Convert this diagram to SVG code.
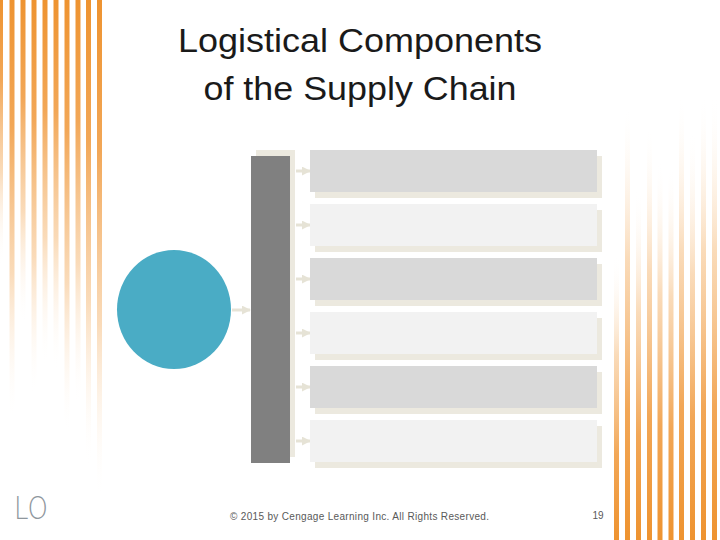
<svg xmlns="http://www.w3.org/2000/svg" width="720" height="540" viewBox="0 0 720 540">
<defs>
<linearGradient id="gl" x1="0" y1="0" x2="0" y2="1">
<stop offset="0" stop-color="#ee9330"/>
<stop offset="0.3" stop-color="#f2a757"/>
<stop offset="0.65" stop-color="#f8cfa2" stop-opacity="0.75"/>
<stop offset="1" stop-color="#ffffff" stop-opacity="0"/>
</linearGradient>
<linearGradient id="gr" x1="0" y1="1" x2="0" y2="0">
<stop offset="0" stop-color="#ee9330"/>
<stop offset="0.3" stop-color="#f2a757"/>
<stop offset="0.65" stop-color="#f8cfa2" stop-opacity="0.75"/>
<stop offset="1" stop-color="#ffffff" stop-opacity="0"/>
</linearGradient>
<marker id="ah" viewBox="0 0 10 10" refX="9" refY="5" markerWidth="3" markerHeight="3" orient="auto">
<path d="M0,0 L10,5 L0,10 z" fill="#e6e3d6"/>
</marker>
<style>
.sl{fill:url(#gl)}
.sr{fill:url(#gr)}
.box-d{fill:#d9d9d9}
.box-l{fill:#f2f2f2}
.shadow{fill:#ece9df}
.conn{stroke:#e6e3d6;stroke-width:3;fill:none;marker-end:url(#ah)}
.title{font-family:"Liberation Sans",Arial,sans-serif;font-size:34px;fill:#1a1a1a;text-anchor:middle}
</style>
</defs>
<rect width="720" height="540" fill="#ffffff"/>
<g id="stripes-left">
<rect class="sl" x="-2" y="0" width="5" height="265"/>
<rect class="sl" x="9.5" y="0" width="5" height="420"/>
<rect class="sl" x="20.5" y="0" width="5" height="325"/>
<rect class="sl" x="31.5" y="0" width="5" height="395"/>
<rect class="sl" x="42.5" y="0" width="5" height="365"/>
<rect class="sl" x="53.5" y="0" width="5" height="370"/>
<rect class="sl" x="64.5" y="0" width="5" height="435"/>
<rect class="sl" x="75.5" y="0" width="5" height="405"/>
<rect class="sl" x="86" y="0" width="5" height="465"/>
<rect class="sl" x="97" y="0" width="5" height="500"/>
</g>
<g id="stripes-right">
<rect class="sr" x="614" y="255" width="5" height="285"/>
<rect class="sr" x="625" y="105" width="5" height="435"/>
<rect class="sr" x="636" y="190" width="5" height="350"/>
<rect class="sr" x="647" y="125" width="5" height="415"/>
<rect class="sr" x="657.5" y="160" width="5" height="380"/>
<rect class="sr" x="668.5" y="165" width="5" height="375"/>
<rect class="sr" x="679" y="95" width="5" height="445"/>
<rect class="sr" x="690" y="130" width="5" height="410"/>
<rect class="sr" x="701" y="95" width="5" height="445"/>
<rect class="sr" x="712" y="95" width="5" height="445"/>
</g>
<g id="title">
<text class="title" x="360" y="52" textLength="364" lengthAdjust="spacingAndGlyphs">Logistical Components</text>
<text class="title" x="360" y="100" textLength="313" lengthAdjust="spacingAndGlyphs">of the Supply Chain</text>
</g>
<g id="connectors">
<line class="conn" x1="232" y1="310" x2="250" y2="310"/>
<line class="conn" x1="296" y1="171" x2="310" y2="171"/>
<line class="conn" x1="296" y1="225" x2="310" y2="225"/>
<line class="conn" x1="296" y1="279" x2="310" y2="279"/>
<line class="conn" x1="296" y1="333" x2="310" y2="333"/>
<line class="conn" x1="296" y1="387" x2="310" y2="387"/>
<line class="conn" x1="296" y1="441" x2="310" y2="441"/>
</g>
<g id="circle">
<ellipse cx="174" cy="309.5" rx="57" ry="59.5" fill="#4aacc5"/>
</g>
<g id="bar">
<rect class="shadow" x="256" y="150" width="39" height="307"/>
<rect x="251" y="156" width="39" height="307" fill="#808080"/>
</g>
<g id="box1"><rect class="shadow" x="315" y="156" width="287" height="42"/><rect class="box-d" x="310" y="150" width="287" height="42"/></g>
<g id="box2"><rect class="shadow" x="315" y="210" width="287" height="42"/><rect class="box-l" x="310" y="204" width="287" height="42"/></g>
<g id="box3"><rect class="shadow" x="315" y="264" width="287" height="42"/><rect class="box-d" x="310" y="258" width="287" height="42"/></g>
<g id="box4"><rect class="shadow" x="315" y="318" width="287" height="42"/><rect class="box-l" x="310" y="312" width="287" height="42"/></g>
<g id="box5"><rect class="shadow" x="315" y="372" width="287" height="42"/><rect class="box-d" x="310" y="366" width="287" height="42"/></g>
<g id="box6"><rect class="shadow" x="315" y="426" width="287" height="42"/><rect class="box-l" x="310" y="420" width="287" height="42"/></g>
<g id="footer">
<text x="14" y="519" font-family="'DejaVu Sans',sans-serif" font-size="32" font-weight="300" fill="#8f979d" textLength="34" lengthAdjust="spacingAndGlyphs">LO</text>
<text x="359.5" y="520" font-family="'Liberation Sans',Arial,sans-serif" font-size="10" fill="#595959" text-anchor="middle" textLength="259" lengthAdjust="spacing">© 2015 by Cengage Learning Inc. All Rights Reserved.</text>
<text x="598" y="519" font-family="'Liberation Sans',Arial,sans-serif" font-size="10" fill="#595959" text-anchor="middle">19</text>
</g>
</svg>
